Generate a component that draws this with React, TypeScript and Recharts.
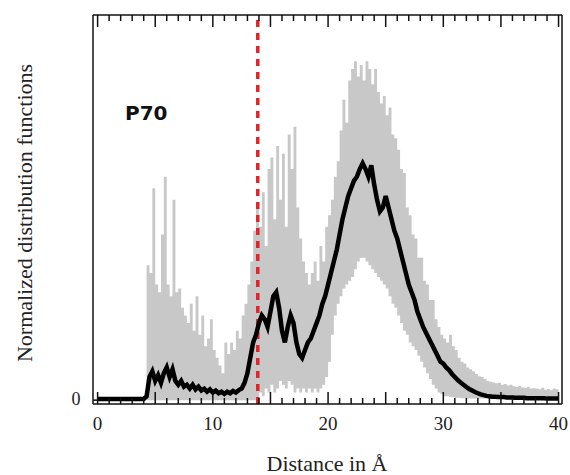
import { ComposedChart, Area, Line, XAxis, YAxis, ReferenceLine } from "recharts";

// distance grid: 0 .. 40 Å, one sample every 0.25 Å
const STEP = 0.25;

// mean distribution (black)
const meanCurve = [
  0.003, 0.003, 0.003, 0.003, 0.003, 0.003, 0.003, 0.003, // 0
  0.003, 0.003, 0.003, 0.003, 0.003, 0.003, 0.003, 0.003, // 2
  0.003, 0.01, 0.06, 0.075, 0.05, 0.065, 0.045, 0.07, // 4
  0.085, 0.06, 0.08, 0.05, 0.04, 0.05, 0.035, 0.04, // 6
  0.03, 0.04, 0.028, 0.035, 0.025, 0.03, 0.022, 0.028, // 8
  0.02, 0.025, 0.018, 0.022, 0.016, 0.022, 0.018, 0.024, // 10
  0.02, 0.026, 0.03, 0.045, 0.07, 0.11, 0.15, 0.17, // 12
  0.2, 0.22, 0.21, 0.19, 0.23, 0.27, 0.28, 0.24, // 14
  0.18, 0.15, 0.19, 0.22, 0.2, 0.15, 0.12, 0.11, // 16
  0.13, 0.15, 0.16, 0.18, 0.2, 0.22, 0.25, 0.27, // 18
  0.3, 0.33, 0.36, 0.39, 0.43, 0.47, 0.5, 0.53, // 20
  0.55, 0.57, 0.58, 0.6, 0.615, 0.6, 0.58, 0.61, // 22
  0.56, 0.52, 0.49, 0.5, 0.53, 0.5, 0.47, 0.44, // 24
  0.42, 0.39, 0.36, 0.33, 0.3, 0.28, 0.26, 0.23, // 26
  0.21, 0.19, 0.175, 0.16, 0.145, 0.13, 0.115, 0.1, // 28
  0.095, 0.085, 0.078, 0.068, 0.06, 0.052, 0.046, 0.04, // 30
  0.034, 0.029, 0.025, 0.021, 0.018, 0.015, 0.013, 0.011, // 32
  0.01, 0.009, 0.009, 0.008, 0.008, 0.008, 0.007, 0.007, // 34
  0.007, 0.006, 0.006, 0.006, 0.006, 0.005, 0.005, 0.005, // 36
  0.005, 0.005, 0.005, 0.005, 0.004, 0.004, 0.004, 0.004, // 38
  0.004,
];

// spread of individual runs (grey band)
const spreadHigh = [
  0, 0, 0, 0, 0, 0, 0, 0, // 0
  0, 0, 0, 0, 0, 0, 0, 0, // 2
  0, 0.35, 0.33, 0.55, 0.3, 0.28, 0.43, 0.58, // 4
  0.3, 0.27, 0.52, 0.28, 0.29, 0.24, 0.22, 0.2, // 6
  0.25, 0.18, 0.27, 0.17, 0.22, 0.14, 0.16, 0.21, // 8
  0.13, 0.11, 0.09, 0.07, 0.15, 0.12, 0.15, 0.13, // 10
  0.18, 0.16, 0.22, 0.25, 0.3, 0.36, 0.44, 0.5, // 12
  0.45, 0.54, 0.4, 0.6, 0.63, 0.47, 0.66, 0.52, // 14
  0.64, 0.45, 0.69, 0.6, 0.71, 0.5, 0.42, 0.36, // 16
  0.33, 0.3, 0.33, 0.36, 0.31, 0.4, 0.36, 0.45, // 18
  0.48, 0.52, 0.58, 0.62, 0.7, 0.78, 0.72, 0.83, // 20
  0.86, 0.88, 0.84, 0.87, 0.83, 0.88, 0.86, 0.82, // 22
  0.86, 0.8, 0.77, 0.79, 0.74, 0.76, 0.69, 0.68, // 24
  0.65, 0.6, 0.59, 0.5, 0.48, 0.43, 0.42, 0.37, // 26
  0.37, 0.31, 0.3, 0.26, 0.26, 0.21, 0.19, 0.17, // 28
  0.16, 0.15, 0.17, 0.14, 0.13, 0.11, 0.1, 0.095, // 30
  0.085, 0.08, 0.075, 0.068, 0.062, 0.06, 0.055, 0.05, // 32
  0.048, 0.046, 0.044, 0.045, 0.04, 0.042, 0.038, 0.04, // 34
  0.036, 0.034, 0.037, 0.033, 0.032, 0.035, 0.03, 0.031, // 36
  0.03, 0.028, 0.032, 0.027, 0.029, 0.026, 0.03, 0.028, // 38
  0.027,
];

const spreadLow = [
  0, 0, 0, 0, 0, 0, 0, 0, // 0
  0, 0, 0, 0, 0, 0, 0, 0, // 2
  0, 0, 0, 0, 0, 0, 0, 0, // 4
  0, 0, 0, 0, 0, 0, 0, 0, // 6
  0, 0, 0, 0, 0, 0, 0, 0, // 8
  0, 0, 0, 0, 0, 0, 0, 0, // 10
  0, 0, 0, 0, 0, 0, 0, 0, // 12
  0.02, 0.01, 0.03, 0.02, 0.04, 0.02, 0.03, 0.05, // 14
  0.04, 0.03, 0.05, 0.04, 0.02, 0.03, 0.02, 0.03, // 16
  0.02, 0.03, 0.02, 0.03, 0.02, 0.03, 0.04, 0.06, // 18
  0.1, 0.17, 0.22, 0.25, 0.27, 0.29, 0.3, 0.31, // 20
  0.32, 0.34, 0.36, 0.37, 0.37, 0.36, 0.35, 0.34, // 22
  0.33, 0.32, 0.31, 0.3, 0.29, 0.27, 0.25, 0.24, // 24
  0.22, 0.2, 0.18, 0.17, 0.15, 0.14, 0.13, 0.115, // 26
  0.1, 0.085, 0.07, 0.055, 0.04, 0.03, 0.02, 0.015, // 28
  0.01, 0.01, 0.008, 0.008, 0.006, 0.006, 0.005, 0.005, // 30
  0.004, 0.004, 0.004, 0.004, 0.004, 0.004, 0.004, 0.004, // 32
  0.004, 0.004, 0.004, 0.004, 0.004, 0.004, 0.004, 0.004, // 34
  0.004, 0.004, 0.004, 0.004, 0.004, 0.004, 0.004, 0.004, // 36
  0.004, 0.004, 0.004, 0.004, 0.004, 0.004, 0.004, 0.004, // 38
  0.004,
];

const xLabels = [0, 10, 20, 30, 40];
const xMinor = [
  0, 1, 2, 3, 4, 5, 6, 7, 8, 9, 10, 11, 12, 13, 14, 15, 16, 17, 18, 19, 20,
  21, 22, 23, 24, 25, 26, 27, 28, 29, 30, 31, 32, 33, 34, 35, 36, 37, 38, 39, 40,
];
const cutoff = 13.9;

const data = meanCurve.map((y, i) => ({
  x: i * STEP,
  mean: y,
  spread: [spreadLow[i], spreadHigh[i]],
}));

const serif = "'Liberation Serif', 'DejaVu Serif', serif";

function BottomTick(props: any) {
  const { x, y, payload } = props;
  const v = payload.value;
  const len = v % 5 === 0 ? 12 : 6;
  return (
    <g>
      <line x1={x} x2={x} y1={y} y2={y - len} stroke="#111" strokeWidth={1.5} />
      {xLabels.includes(v) && (
        <text x={x} y={y + 26} textAnchor="middle" fontFamily={serif} fontSize={19} fill="#222">
          {v}
        </text>
      )}
    </g>
  );
}

function TopTick(props: any) {
  const { x, y, payload } = props;
  const len = payload.value % 5 === 0 ? 12 : 6;
  return <line x1={x} x2={x} y1={y} y2={y + len} stroke="#111" strokeWidth={1.5} />;
}

function LeftTick(props: any) {
  const { x, y, payload } = props;
  return (
    <g>
      <line x1={x} x2={x + 5} y1={y} y2={y} stroke="#111" strokeWidth={1.5} />
      <text x={x - 17} y={y + 5} textAnchor="middle" fontFamily={serif} fontSize={18} fill="#222">
        {payload.value}
      </text>
    </g>
  );
}

export default function App() {
  return (
    <div style={{ position: "absolute", left: 0, top: 0, width: 570, height: 475, background: "#fff" }}>
      <ComposedChart width={570} height={475} data={data} margin={{ top: 0, right: 0, bottom: 0, left: 0 }}>
        <XAxis
          xAxisId="bottom"
          dataKey="x"
          type="number"
          domain={[-0.4, 40.3]}
          allowDataOverflow
          ticks={xMinor}
          interval={0}
          height={71}
          tickSize={0}
          tickMargin={0}
          tickLine={false}
          tick={<BottomTick />}
          axisLine={{ stroke: "#111", strokeWidth: 1.5 }}
          label={{
            content: () => (
              <text x={327} y={471} textAnchor="middle" fontFamily={serif} fontSize={22} fill="#222">
                Distance in Å
              </text>
            ),
          }}
        />
        <XAxis
          xAxisId="top"
          orientation="top"
          dataKey="x"
          type="number"
          domain={[-0.4, 40.3]}
          allowDataOverflow
          ticks={xMinor}
          interval={0}
          height={15}
          tickSize={0}
          tickMargin={0}
          tickLine={false}
          tick={<TopTick />}
          axisLine={{ stroke: "#111", strokeWidth: 1.5 }}
        />
        <YAxis
          yAxisId="left"
          type="number"
          domain={[-0.01, 1]}
          allowDataOverflow
          ticks={[0]}
          width={93}
          tickSize={0}
          tickMargin={0}
          tickLine={false}
          tick={<LeftTick />}
          axisLine={{ stroke: "#111", strokeWidth: 1.5 }}
          label={{
            content: () => (
              <text
                transform="translate(32,213) rotate(-90)"
                textAnchor="middle"
                fontFamily={serif}
                fontSize={22}
                fill="#222"
              >
                Normalized distribution functions
              </text>
            ),
          }}
        />
        <YAxis
          yAxisId="right"
          orientation="right"
          type="number"
          domain={[-0.01, 1]}
          allowDataOverflow
          ticks={[]}
          width={8}
          tick={false}
          tickLine={false}
          axisLine={{ stroke: "#111", strokeWidth: 1.5 }}
        />
        <Area
          xAxisId="top"
          yAxisId="right"
          dataKey="spread"
          type="stepAfter"
          stroke="none"
          fill="#c8c8c8"
          fillOpacity={1}
          isAnimationActive={false}
        />
        <ReferenceLine
          x={cutoff}
          xAxisId="bottom"
          yAxisId="left"
          stroke="#e0242a"
          strokeWidth={3.5}
          strokeDasharray="7 6"
        />
        <Line
          xAxisId="bottom"
          yAxisId="left"
          dataKey="mean"
          type="linear"
          stroke="#000"
          strokeWidth={4.5}
          dot={false}
          isAnimationActive={false}
        />
      </ComposedChart>
      <svg width={570} height={475} style={{ position: "absolute", left: 0, top: 0, pointerEvents: "none" }}>
        <text x={125} y={120} fontFamily="'DejaVu Sans', sans-serif" fontWeight="bold" fontSize={20} fill="#111">
          P70
        </text>
      </svg>
    </div>
  );
}
